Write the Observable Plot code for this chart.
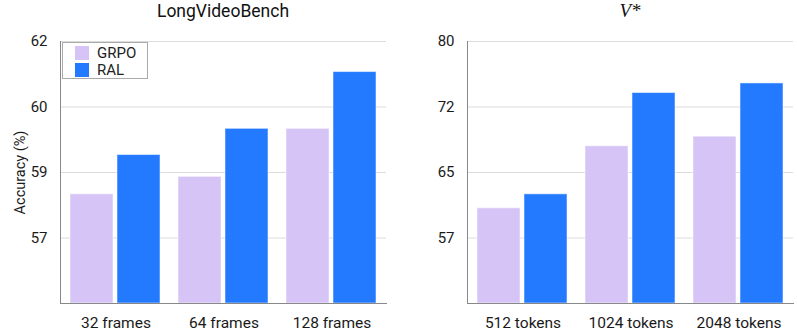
<!DOCTYPE html>
<html><head><meta charset="utf-8">
<script src="https://cdn.jsdelivr.net/npm/d3@7"></script>
<script src="https://cdn.jsdelivr.net/npm/@observablehq/plot@0.6"></script>
<style>
body{margin:0;background:#fff;font-family:Roboto, sans-serif;}
#wrap{position:relative;width:797px;height:332px;overflow:hidden;}
.panel{position:absolute;top:0;}
.title{position:absolute;top:1px;text-align:center;color:#111;line-height:20px;}
#legend{position:absolute;left:62px;top:42px;width:84px;height:35px;border:1px solid #aaa;background:#fff;font-size:15px;color:#222;}
.item{position:absolute;left:12px;height:15px;display:flex;align-items:center;}
.sw{width:14px;height:14px;margin-right:8px;}
</style></head><body>
<div id="wrap"></div>
<script>
const series = ["GRPO", "RAL"];
const colors = ["#d5c4f5", "#247aff"];

const lvbCategories = ["32 frames", "64 frames", "128 frames"];
const lvbGRPO = [58.5, 58.9, 60.0];
const lvbRAL = [59.4, 60.0, 61.3];
const lvbTicks = [57.5, 59, 60.5, 62];
const lvbDomain = [56, 62];

const vCategories = ["512 tokens", "1024 tokens", "2048 tokens"];
const vGRPO = [60.9, 68.0, 69.1];
const vRAL = [62.5, 74.1, 75.2];
const vTicks = [57.5, 65, 72.5, 80];
const vDomain = [50, 80];

const font = {fontFamily: "Roboto, sans-serif", fontSize: "14px", color: "#1a1a1a", background: "transparent"};

function panel({cats, grpo, ral, ticks, domain, width, marginLeft, marginRight, ylabel, left}) {
  const data = cats.flatMap((c, i) => [
    {category: c, series: series[0], value: grpo[i]},
    {category: c, series: series[1], value: ral[i]}
  ]);
  const common = {width, height: 332, marginTop: 41, marginBottom: 29, marginLeft, marginRight, style: font};
  const back = Plot.plot({
    ...common,
    y: {domain},
    marks: [
      Plot.ruleY(ticks, {stroke: "#dcdcdc"}),
      Plot.axisY(ticks, {tickFormat: d => String(Math.floor(d)), tickSize: 0, tickPadding: 13, fontSize: 15,
        label: null}),
      ...(ylabel ? [Plot.axisY({ticks: [], tickSize: 0, fontSize: 14.5, label: ylabel, labelAnchor: "center", labelOffset: 46, labelArrow: "none"})] : [])
    ]
  });
  const bars = Plot.plot({
    ...common,
    fx: {domain: cats, paddingInner: 0.16, paddingOuter: 0.08},
    x: {domain: series, paddingInner: 0.084, paddingOuter: 0, axis: null},
    y: {domain, axis: null},
    color: {domain: series, range: colors},
    marks: [
      Plot.barY(data, {fx: "category", x: "series", y1: domain[0], y2: "value", fill: "series", stroke: "white", strokeOpacity: 0.5}),
      Plot.axisFx({anchor: "bottom", tickSize: 0, tickPadding: 13, fontSize: 15.5, label: null})
    ]
  });
  const spines = Plot.plot({
    ...common,
    y: {domain, axis: null},
    marks: [
      Plot.frame({anchor: "left", stroke: "#888"}),
      Plot.frame({anchor: "bottom", stroke: "#888"})
    ]
  });
  for (const el of [back, bars, spines]) {
    el.classList.add("panel");
    el.style.left = left + "px";
    wrap.appendChild(el);
  }
}

const wrap = document.getElementById("wrap");

panel({cats: lvbCategories, grpo: lvbGRPO, ral: lvbRAL, ticks: lvbTicks, domain: lvbDomain,
  width: 400, marginLeft: 60, marginRight: 14, ylabel: "Accuracy (%)", left: 0});
panel({cats: vCategories, grpo: vGRPO, ral: vRAL, ticks: vTicks, domain: vDomain,
  width: 397, marginLeft: 67, marginRight: 4, ylabel: null, left: 400});

const t1 = document.createElement("div");
t1.className = "title"; t1.textContent = "LongVideoBench";
Object.assign(t1.style, {left: "60px", width: "326px", fontSize: "17.5px"});
wrap.appendChild(t1);

const t2 = document.createElement("div");
t2.className = "title"; t2.textContent = "V*";
Object.assign(t2.style, {left: "467px", width: "326px", fontSize: "19px", fontFamily: "'Liberation Serif', serif", fontStyle: "italic"});
wrap.appendChild(t2);

const legend = document.createElement("div");
legend.id = "legend";
series.forEach((s, i) => {
  const it = document.createElement("div");
  it.className = "item";
  it.style.top = (2 + i * 17.5) + "px";
  const sw = document.createElement("div");
  sw.className = "sw"; sw.style.background = colors[i];
  const tx = document.createElement("span"); tx.textContent = s;
  it.appendChild(sw); it.appendChild(tx);
  legend.appendChild(it);
});
wrap.appendChild(legend);
</script>
</body></html>
